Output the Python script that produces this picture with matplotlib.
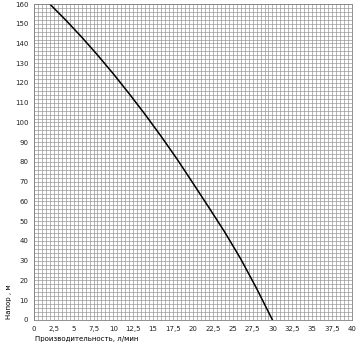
import numpy as np
import matplotlib.pyplot as plt

# кривая напора
q = [2, 4, 6, 8, 10, 12, 14, 16, 18, 20, 22, 24, 26, 28, 30]
h = [160, 151.9, 143.3, 134.2, 124.6, 114.5, 104, 93, 81.5, 69.3, 57, 44.5, 31, 16, 0]

xticks = np.arange(0, 40.1, 2.5)
xlabels = ["0", "2,5", "5", "7,5", "10", "12,5", "15", "17,5", "20", "22,5",
           "25", "27,5", "30", "32,5", "35", "37,5", "40"]
yticks = np.arange(0, 161, 10)

fig = plt.figure(figsize=(3.64, 3.64), dpi=100)
ax = fig.add_axes([0.093, 0.121, 0.874, 0.868])

ax.plot(q, h, color="black", lw=1.1, solid_joinstyle="round")

ax.set_xlim(0, 40)
ax.set_ylim(0, 160)
ax.set_xticks(xticks)
ax.set_xticklabels(xlabels)
ax.set_yticks(yticks)
ax.set_xticks(np.arange(0, 40.1, 0.5), minor=True)
ax.set_yticks(np.arange(0, 161, 2), minor=True)
ax.grid(which="both", color="#8f8f8f", lw=0.45)
ax.set_axisbelow(True)
ax.tick_params(which="both", length=0, labelsize=5, pad=4, colors="#222222")
for s in ax.spines.values():
    s.set_color("#808080")
    s.set_linewidth(0.6)

fig.text(0.024, 0.17, "Напор , м", rotation=90, fontsize=5, ha="center", va="center")
fig.text(0.095, 0.07, "Производительность, л/мин", fontsize=5, ha="left", va="center")

fig.savefig("out.png", dpi=100)
